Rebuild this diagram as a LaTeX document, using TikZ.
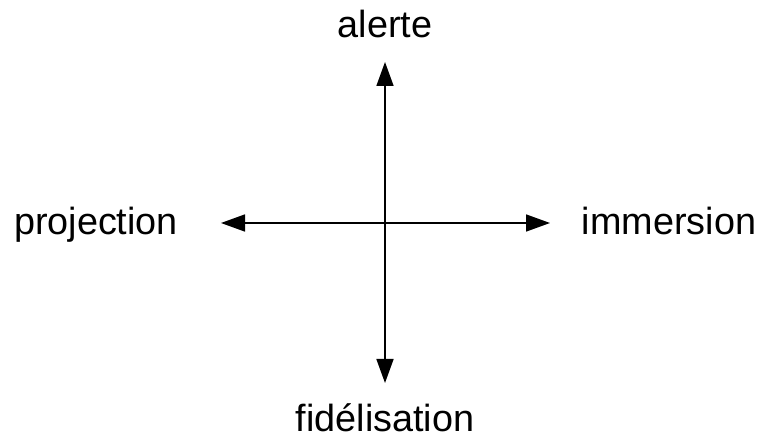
\documentclass[tikz,border=0pt]{standalone}
\usepackage{fontspec}
\setmainfont{Liberation Sans}
\usetikzlibrary{arrows.meta, positioning}

\begin{document}
\begin{tikzpicture}[
    x=1pt, y=-1pt,
    pole/.style={inner sep=0pt, anchor=base,
                 font=\fontsize{37.8}{45}\selectfont},
    axis/.style={line width=1.6pt},
    >={Triangle[length=24pt, width=17pt]}
  ]
    \useasboundingbox (0,0) rectangle (758,438);
    \coordinate (top) at (385,62);
    \coordinate (bot) at (385,383);
    \coordinate (lft) at (221,223);
    \coordinate (rgt) at (550,223);
    \node[pole] (alerte) at (385,38) {alerte};
    \node[pole] (fidel) at (385,431) {fidélisation};
    \node[pole] (proj) at (96,235) {projection};
    \node[pole] (imm) at (669,235) {immersion};
    \draw[axis, <->] (top) -- (bot);
    \draw[axis, <->] (lft) -- (rgt);
  \end{tikzpicture}
\end{document}
